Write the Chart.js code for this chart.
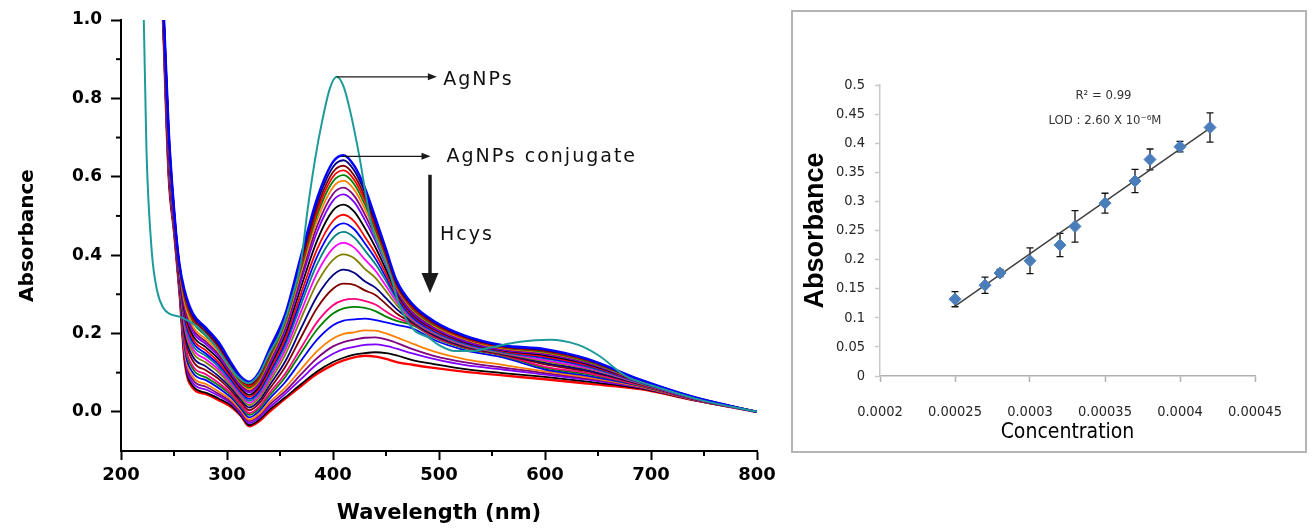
<!DOCTYPE html>
<html><head><meta charset="utf-8">
<script src="https://cdn.jsdelivr.net/npm/chart.js@4.4.1/dist/chart.umd.min.js"></script>
<style>
html,body{margin:0;padding:0;background:#fff;width:1313px;height:531px;overflow:hidden}
#lw{position:absolute;left:0;top:0;width:785px;height:531px}
#rw{position:absolute;left:791px;top:10px;width:516px;height:443px;border:2px solid #b4b4b4;box-sizing:border-box}
#rw canvas{position:absolute;left:0;top:0}
</style></head><body>
<div id="lw"><canvas id="left" width="785" height="531"></canvas></div>
<div id="rw"><canvas id="right" width="512" height="439"></canvas></div>
<script>
// ---------- Left panel: UV-Vis spectra ----------
const wavelengths = [236,240,245,250,255,260,268,280,292,304,313,321,330,340,355,370,385,400,410,420,430,440,450,460,475,495,525,560,600,640,690,740,800];

const hcys01 = [1.25,1.04,0.72,0.52,0.38,0.31,0.25,0.215,0.178,0.125,0.09,0.077,0.10,0.16,0.25,0.40,0.545,0.638,0.655,0.628,0.572,0.495,0.415,0.335,0.275,0.232,0.194,0.17,0.16,0.135,0.082,0.038,0.0];
const hcys02 = [1.252,1.038,0.716,0.518,0.378,0.305,0.245,0.210,0.173,0.121,0.087,0.073,0.096,0.155,0.245,0.392,0.534,0.625,0.642,0.616,0.561,0.487,0.41,0.33,0.272,0.230,0.192,0.168,0.158,0.134,0.081,0.038,0];
const hcys03 = [1.253,1.035,0.712,0.516,0.375,0.30,0.239,0.204,0.168,0.117,0.083,0.069,0.091,0.149,0.239,0.383,0.522,0.612,0.628,0.603,0.55,0.479,0.404,0.326,0.269,0.227,0.19,0.167,0.156,0.132,0.081,0.037,0];
const hcys04 = [1.255,1.033,0.708,0.514,0.373,0.295,0.234,0.199,0.164,0.114,0.08,0.065,0.087,0.144,0.234,0.375,0.512,0.60,0.616,0.592,0.54,0.472,0.399,0.322,0.266,0.225,0.188,0.165,0.155,0.131,0.08,0.037,0];
const hcys05 = [1.257,1.031,0.704,0.512,0.371,0.29,0.229,0.194,0.159,0.11,0.076,0.062,0.083,0.138,0.229,0.368,0.502,0.588,0.604,0.581,0.53,0.465,0.395,0.32,0.263,0.222,0.187,0.164,0.153,0.129,0.08,0.037,0];
const hcys06 = [1.259,1.028,0.699,0.51,0.368,0.279,0.217,0.186,0.153,0.106,0.073,0.058,0.079,0.133,0.223,0.358,0.489,0.573,0.59,0.567,0.518,0.456,0.388,0.317,0.26,0.22,0.185,0.162,0.151,0.128,0.079,0.037,0];
const hcys07 = [1.26,1.025,0.695,0.507,0.365,0.273,0.211,0.179,0.147,0.102,0.069,0.053,0.074,0.127,0.216,0.347,0.474,0.556,0.572,0.551,0.504,0.446,0.381,0.313,0.256,0.217,0.183,0.16,0.149,0.126,0.079,0.036,0];
const hcys08 = [1.262,1.023,0.69,0.505,0.363,0.265,0.203,0.173,0.141,0.097,0.065,0.049,0.069,0.12,0.209,0.336,0.459,0.539,0.555,0.535,0.49,0.436,0.374,0.309,0.252,0.214,0.18,0.158,0.147,0.124,0.078,0.036,0];
const hcys09 = [1.265,1.019,0.685,0.502,0.359,0.257,0.194,0.165,0.135,0.092,0.06,0.043,0.063,0.113,0.198,0.32,0.437,0.514,0.529,0.511,0.469,0.42,0.363,0.304,0.249,0.212,0.178,0.157,0.144,0.122,0.077,0.036,0];
const hcys10 = [1.267,1.016,0.679,0.50,0.356,0.249,0.185,0.157,0.127,0.087,0.055,0.038,0.057,0.105,0.187,0.303,0.415,0.487,0.503,0.486,0.447,0.404,0.352,0.298,0.246,0.209,0.177,0.155,0.141,0.119,0.076,0.035,0];
const hcys11 = [1.269,1.013,0.674,0.497,0.353,0.241,0.178,0.149,0.121,0.082,0.051,0.033,0.052,0.099,0.178,0.289,0.396,0.466,0.481,0.466,0.43,0.391,0.343,0.293,0.242,0.207,0.175,0.154,0.138,0.117,0.075,0.035,0];
const hcys12 = [1.271,1.01,0.669,0.494,0.35,0.233,0.169,0.143,0.115,0.077,0.047,0.028,0.047,0.092,0.169,0.275,0.377,0.444,0.459,0.445,0.412,0.377,0.334,0.288,0.239,0.204,0.173,0.152,0.136,0.115,0.074,0.035,0];
const hcys13 = [1.274,1.007,0.663,0.492,0.347,0.224,0.16,0.134,0.108,0.072,0.042,0.023,0.041,0.084,0.158,0.257,0.354,0.417,0.431,0.419,0.389,0.36,0.321,0.281,0.236,0.202,0.171,0.151,0.132,0.112,0.073,0.034,0];
const hcys14 = [1.276,1.003,0.657,0.489,0.343,0.216,0.151,0.126,0.101,0.066,0.037,0.017,0.035,0.076,0.146,0.239,0.329,0.388,0.402,0.392,0.365,0.342,0.308,0.273,0.233,0.2,0.169,0.149,0.129,0.11,0.072,0.034,0];
const hcys15 = [1.279,0.999,0.65,0.485,0.339,0.205,0.14,0.116,0.091,0.06,0.031,0.011,0.027,0.067,0.129,0.214,0.295,0.349,0.363,0.355,0.333,0.317,0.29,0.262,0.23,0.197,0.167,0.148,0.125,0.106,0.071,0.033,0];
const hcys16 = [1.282,0.995,0.643,0.482,0.335,0.195,0.129,0.106,0.084,0.053,0.025,0.004,0.02,0.058,0.115,0.191,0.265,0.314,0.327,0.324,0.31,0.298,0.275,0.251,0.227,0.195,0.165,0.146,0.121,0.103,0.07,0.033,0];
const hcys17 = [1.285,0.991,0.636,0.478,0.331,0.183,0.116,0.096,0.074,0.046,0.018,-0.003,0.012,0.048,0.098,0.164,0.229,0.272,0.285,0.288,0.283,0.274,0.256,0.24,0.224,0.192,0.164,0.145,0.115,0.099,0.068,0.032,0];
const hcys18 = [1.287,0.988,0.631,0.475,0.328,0.176,0.109,0.088,0.068,0.042,0.014,-0.008,0.007,0.041,0.089,0.151,0.21,0.251,0.264,0.268,0.265,0.257,0.243,0.232,0.221,0.19,0.162,0.143,0.112,0.096,0.067,0.032,0];
const hcys19 = [1.29,0.984,0.625,0.472,0.324,0.167,0.099,0.081,0.061,0.036,0.009,-0.014,0.001,0.033,0.076,0.131,0.184,0.221,0.233,0.236,0.238,0.234,0.228,0.222,0.213,0.184,0.157,0.139,0.108,0.092,0.066,0.032,0];
const hcys20 = [1.292,0.981,0.618,0.469,0.321,0.157,0.089,0.071,0.052,0.03,0.004,-0.02,-0.006,0.024,0.062,0.109,0.155,0.187,0.199,0.203,0.208,0.207,0.2,0.19,0.174,0.154,0.134,0.12,0.103,0.088,0.064,0.031,0];
const hcys21 = [1.295,0.978,0.613,0.467,0.318,0.15,0.081,0.064,0.046,0.025,-0.001,-0.024,-0.011,0.018,0.053,0.096,0.137,0.167,0.178,0.184,0.189,0.19,0.185,0.176,0.16,0.143,0.126,0.113,0.099,0.085,0.063,0.031,0];
const hcys22 = [1.296,0.975,0.609,0.464,0.315,0.142,0.073,0.057,0.041,0.021,-0.005,-0.029,-0.016,0.011,0.046,0.084,0.122,0.148,0.16,0.166,0.171,0.172,0.168,0.161,0.149,0.135,0.119,0.108,0.095,0.082,0.062,0.031,0];
const hcys23 = [1.298,0.972,0.603,0.462,0.312,0.135,0.065,0.049,0.034,0.016,-0.009,-0.034,-0.021,0.005,0.037,0.071,0.103,0.127,0.138,0.146,0.15,0.152,0.15,0.144,0.132,0.122,0.109,0.099,0.089,0.077,0.06,0.03,0];
const hcys24 = [1.30,0.97,0.60,0.46,0.31,0.13,0.06,0.045,0.03,0.012,-0.01,-0.037,-0.025,0.0,0.034,0.066,0.097,0.12,0.131,0.139,0.143,0.141,0.135,0.127,0.12,0.112,0.102,0.093,0.083,0.072,0.058,0.03,0];

const hcysCurves = [hcys01,hcys02,hcys03,hcys04,hcys05,hcys06,hcys07,hcys08,hcys09,hcys10,hcys11,hcys12,hcys13,hcys14,hcys15,hcys16,hcys17,hcys18,hcys19,hcys20,hcys21,hcys22,hcys23,hcys24];
const hcysColors = ['#0000ff','#000080','#800000','#ff0000','#008000','#ff8000','#800080','#8000ff','#000000','#ff0000','#0000ff','#008080','#ff00ff','#808000','#000080','#800000','#ff0080','#008000','#0000ff','#ff8000','#800080','#8000ff','#000000','#ff0000'];

const agnpsWavelength = [219,221.5,224,229,234,240,246,255,265,275,287,300,310,320,330,340,350,360,370,376,383,390,397,403.5,410,416,425,430,436,444,454,463,476,490,500,515,530,550,575,605,630,650,677,700,750,800];
const agnpsAbs = [1.15,1.0,0.67,0.41,0.31,0.265,0.25,0.243,0.23,0.21,0.175,0.125,0.09,0.073,0.095,0.15,0.2,0.28,0.385,0.515,0.643,0.745,0.825,0.855,0.83,0.77,0.65,0.57,0.48,0.42,0.35,0.27,0.21,0.19,0.17,0.155,0.155,0.165,0.178,0.184,0.172,0.145,0.09,0.068,0.028,0.0];

const xTicksL = [200,300,400,500,600,700,800];
const xTickLabelsL = ['200','300','400','500','600','700','800'];
const xMinorL = [250,350,450,550,650,750];
const yTicksL = [0,0.2,0.4,0.6,0.8,1.0];
const yTickLabelsL = ['0.0','0.2','0.4','0.6','0.8','1.0'];
const yMinorL = [0.1,0.3,0.5,0.7,0.9];

// annotations (data coordinates)
const arrowsL = [
  {from:[403.5,0.855], to:[498,0.855], head:[9,3.5], lw:1.3},
  {from:[408,0.652], to:[492,0.652], head:[9,3.5], lw:1.3},
  {from:[491.5,0.605], to:[491.5,0.303], head:[20,8.5], lw:3.5}
];
const labelsL = [
  {text:'AgNPs', at:[504,0.846]},
  {text:'AgNPs conjugate', at:[507,0.650]},
  {text:'Hcys', at:[501,0.452]}
];

// ---------- Right panel: calibration ----------
const concentration = [0.00025,0.00027,0.00028,0.0003,0.00032,0.00033,0.00035,0.00037,0.00038,0.0004,0.00042];
const absorbance = [0.132,0.156,0.177,0.198,0.225,0.257,0.297,0.335,0.372,0.394,0.427];
const absError = [0.013,0.014,0.006,0.022,0.02,0.027,0.017,0.02,0.018,0.009,0.025];
const fitX = [0.00025,0.00042];
const fitY = [0.12,0.426];
const xTicksR = [0.0002,0.00025,0.0003,0.00035,0.0004,0.00045];
const xTickLabelsR = ['0.0002','0.00025','0.0003','0.00035','0.0004','0.00045'];
const yTicksR = [0,0.05,0.1,0.15,0.2,0.25,0.3,0.35,0.4,0.45,0.5];
const yTickLabelsR = ['0','0.05','0.1','0.15','0.2','0.25','0.3','0.35','0.4','0.45','0.5'];
const notesR = [
  {text:'R\u00B2 = 0.99', at:[0.000349,0.481]},
  {text:'LOD : 2.60 X 10\u207B\u2076M', at:[0.00035,0.438]}
];

// ---------- plugins ----------
const minorTicksL = {
  id:'minorTicksL',
  afterDraw(chart){
    const ctx = chart.ctx, xs = chart.scales.x, ys = chart.scales.y, a = chart.chartArea;
    ctx.save();
    ctx.strokeStyle = '#000'; ctx.lineWidth = 2;
    xMinorL.forEach(v => { const px = xs.getPixelForValue(v); ctx.beginPath(); ctx.moveTo(px, a.bottom); ctx.lineTo(px, a.bottom + 5); ctx.stroke(); });
    yMinorL.forEach(v => { const py = ys.getPixelForValue(v); ctx.beginPath(); ctx.moveTo(a.left, py); ctx.lineTo(a.left - 5, py); ctx.stroke(); });
    ctx.restore();
  }
};
function drawArrow(ctx, x1, y1, x2, y2, hl, hw, lw){
  const ang = Math.atan2(y2 - y1, x2 - x1), c = Math.cos(ang), s = Math.sin(ang);
  ctx.lineWidth = lw;
  ctx.beginPath(); ctx.moveTo(x1, y1); ctx.lineTo(x2 - c * hl * 0.7, y2 - s * hl * 0.7); ctx.stroke();
  ctx.beginPath(); ctx.moveTo(x2, y2);
  ctx.lineTo(x2 - hl * c + hw * s, y2 - hl * s - hw * c);
  ctx.lineTo(x2 - hl * c - hw * s, y2 - hl * s + hw * c);
  ctx.closePath(); ctx.fill();
}
const annotL = {
  id:'annotL',
  afterDraw(chart){
    const ctx = chart.ctx, xs = chart.scales.x, ys = chart.scales.y;
    ctx.save();
    ctx.strokeStyle = '#1a1a1a'; ctx.fillStyle = '#1a1a1a';
    arrowsL.forEach(a => drawArrow(ctx, xs.getPixelForValue(a.from[0]), ys.getPixelForValue(a.from[1]), xs.getPixelForValue(a.to[0]), ys.getPixelForValue(a.to[1]), a.head[0], a.head[1], a.lw));
    ctx.font = '19px "DejaVu Sans"';
    try { ctx.letterSpacing = '2px'; } catch(e) {}
    ctx.textAlign = 'left'; ctx.textBaseline = 'middle'; ctx.fillStyle = '#111';
    labelsL.forEach(l => ctx.fillText(l.text, xs.getPixelForValue(l.at[0]), ys.getPixelForValue(l.at[1])));
    ctx.restore();
  }
};
const errorBarsR = {
  id:'errorBarsR',
  beforeDatasetsDraw(chart){
    const ctx = chart.ctx, xs = chart.scales.x, ys = chart.scales.y;
    ctx.save();
    ctx.strokeStyle = '#111'; ctx.lineWidth = 1.3;
    concentration.forEach((c, i) => {
      const px = xs.getPixelForValue(c);
      const top = ys.getPixelForValue(absorbance[i] + absError[i]);
      const bot = ys.getPixelForValue(absorbance[i] - absError[i]);
      ctx.beginPath();
      ctx.moveTo(px, top); ctx.lineTo(px, bot);
      ctx.moveTo(px - 3.5, top); ctx.lineTo(px + 3.5, top);
      ctx.moveTo(px - 3.5, bot); ctx.lineTo(px + 3.5, bot);
      ctx.stroke();
    });
    ctx.restore();
  }
};
const narrow = '"Liberation Sans Narrow", "DejaVu Sans Condensed", sans-serif';
const notesPluginR = {
  id:'notesR',
  afterDraw(chart){
    const ctx = chart.ctx, xs = chart.scales.x, ys = chart.scales.y;
    ctx.save();
    ctx.font = '13px ' + narrow;
    ctx.fillStyle = '#333'; ctx.textAlign = 'center'; ctx.textBaseline = 'middle';
    notesR.forEach(n => ctx.fillText(n.text, xs.getPixelForValue(n.at[0]), ys.getPixelForValue(n.at[1])));
    ctx.restore();
  }
};

// ---------- left chart ----------
const leftDatasets = [{
  data: agnpsWavelength.map((w, i) => ({x: w, y: agnpsAbs[i]})),
  borderColor: '#1f9a9a', borderWidth: 2, clip: 0
}].concat(hcysCurves.map((arr, k) => ({
  data: wavelengths.map((w, i) => ({x: w, y: arr[i]})),
  borderColor: hcysColors[k],
  borderWidth: (k === 0 || k === hcysCurves.length - 1) ? 2.4 : 1.8,
  clip: 0
})));

new Chart(document.getElementById('left'), {
  type: 'line',
  data: {datasets: leftDatasets},
  options: {
    responsive: false, animation: false, devicePixelRatio: 1,
    layout: {padding: {top: 20, right: 28, left: 0, bottom: 0}},
    plugins: {legend: {display: false}, tooltip: {enabled: false}},
    elements: {point: {radius: 0}, line: {cubicInterpolationMode: 'monotone'}},
    scales: {
      x: {
        type: 'linear', min: 200, max: 800,
        afterBuildTicks: s => { s.ticks = xTicksL.map(v => ({value: v})); },
        afterFit: s => { s.height = 80; },
        grid: {display: true, drawOnChartArea: false, drawTicks: true, tickLength: 9, tickColor: '#000', tickWidth: 2},
        border: {display: true, color: '#000', width: 2},
        ticks: {padding: 5, color: '#000', autoSkip: false, maxRotation: 0,
          font: {family: '"DejaVu Sans"', weight: 'bold', size: 18},
          callback: (v, i) => xTickLabelsL[i]},
        title: {display: true, text: 'Wavelength (nm)', color: '#000',
          font: {family: '"DejaVu Sans"', weight: 'bold', size: 21}, padding: {top: 0, bottom: 5}}
      },
      y: {
        type: 'linear', min: -0.1, max: 1.0,
        afterBuildTicks: s => { s.ticks = yTicksL.map(v => ({value: v})); },
        afterFit: s => { s.width = 121; },
        grid: {display: true, drawOnChartArea: false, drawTicks: true, tickLength: 10, tickColor: '#000', tickWidth: 2},
        border: {display: true, color: '#000', width: 2},
        ticks: {padding: 9, color: '#000', autoSkip: false,
          font: {family: '"DejaVu Sans"', weight: 'bold', size: 17},
          callback: (v, i) => yTickLabelsL[i]},
        title: {display: true, text: 'Absorbance', color: '#000',
          font: {family: '"DejaVu Sans"', weight: 'bold', size: 20}, padding: {top: 16, bottom: 0}}
      }
    }
  },
  plugins: [minorTicksL, annotL]
});

// ---------- right chart ----------
new Chart(document.getElementById('right'), {
  type: 'scatter',
  data: {datasets: [
    {type: 'scatter', data: concentration.map((c, i) => ({x: c, y: absorbance[i]})),
     pointStyle: 'rectRot', pointRadius: 6, backgroundColor: '#4a7ebb', borderColor: '#4a7ebb', borderWidth: 1, order: 1},
    {type: 'line', data: fitX.map((c, i) => ({x: c, y: fitY[i]})),
     borderColor: '#404040', borderWidth: 1.5, pointRadius: 0, fill: false, order: 2}
  ]},
  options: {
    responsive: false, animation: false, devicePixelRatio: 1,
    layout: {padding: {top: 73, right: 50, left: 0, bottom: 0}},
    plugins: {legend: {display: false}, tooltip: {enabled: false}},
    scales: {
      x: {
        type: 'linear', min: 0.0002, max: 0.00045,
        afterBuildTicks: s => { s.ticks = xTicksR.map(v => ({value: v})); },
        afterFit: s => { s.height = 75; },
        grid: {display: true, drawOnChartArea: false, drawTicks: true, tickLength: 6, tickColor: '#b0b0b0', tickWidth: 1.5},
        border: {display: true, color: '#b0b0b0', width: 1.5},
        ticks: {padding: 22, color: '#262626', autoSkip: false, maxRotation: 0,
          font: {family: narrow, size: 14.5}, callback: (v, i) => xTickLabelsR[i]},
        title: {display: true, text: 'Concentration', color: '#000',
          font: {family: narrow, size: 21}, padding: {top: 0, bottom: 6}}
      },
      y: {
        type: 'linear', min: 0, max: 0.5,
        afterBuildTicks: s => { s.ticks = yTicksR.map(v => ({value: v})); },
        afterFit: s => { s.width = 87; },
        grid: {display: true, drawOnChartArea: false, drawTicks: true, tickLength: 5, tickColor: '#c8c8c8', tickWidth: 1.5},
        border: {display: true, color: '#c8c8c8', width: 1.5},
        ticks: {padding: 10, color: '#262626', autoSkip: false,
          font: {family: narrow, size: 14.5}, callback: (v, i) => yTickLabelsR[i]},
        title: {display: true, text: 'Absorbance', color: '#000',
          font: {family: '"Liberation Sans", Arial, sans-serif', weight: 'bold', size: 27}, padding: {top: 6, bottom: 0}}
      }
    }
  },
  plugins: [errorBarsR, notesPluginR]
});
</script>
</body></html>
